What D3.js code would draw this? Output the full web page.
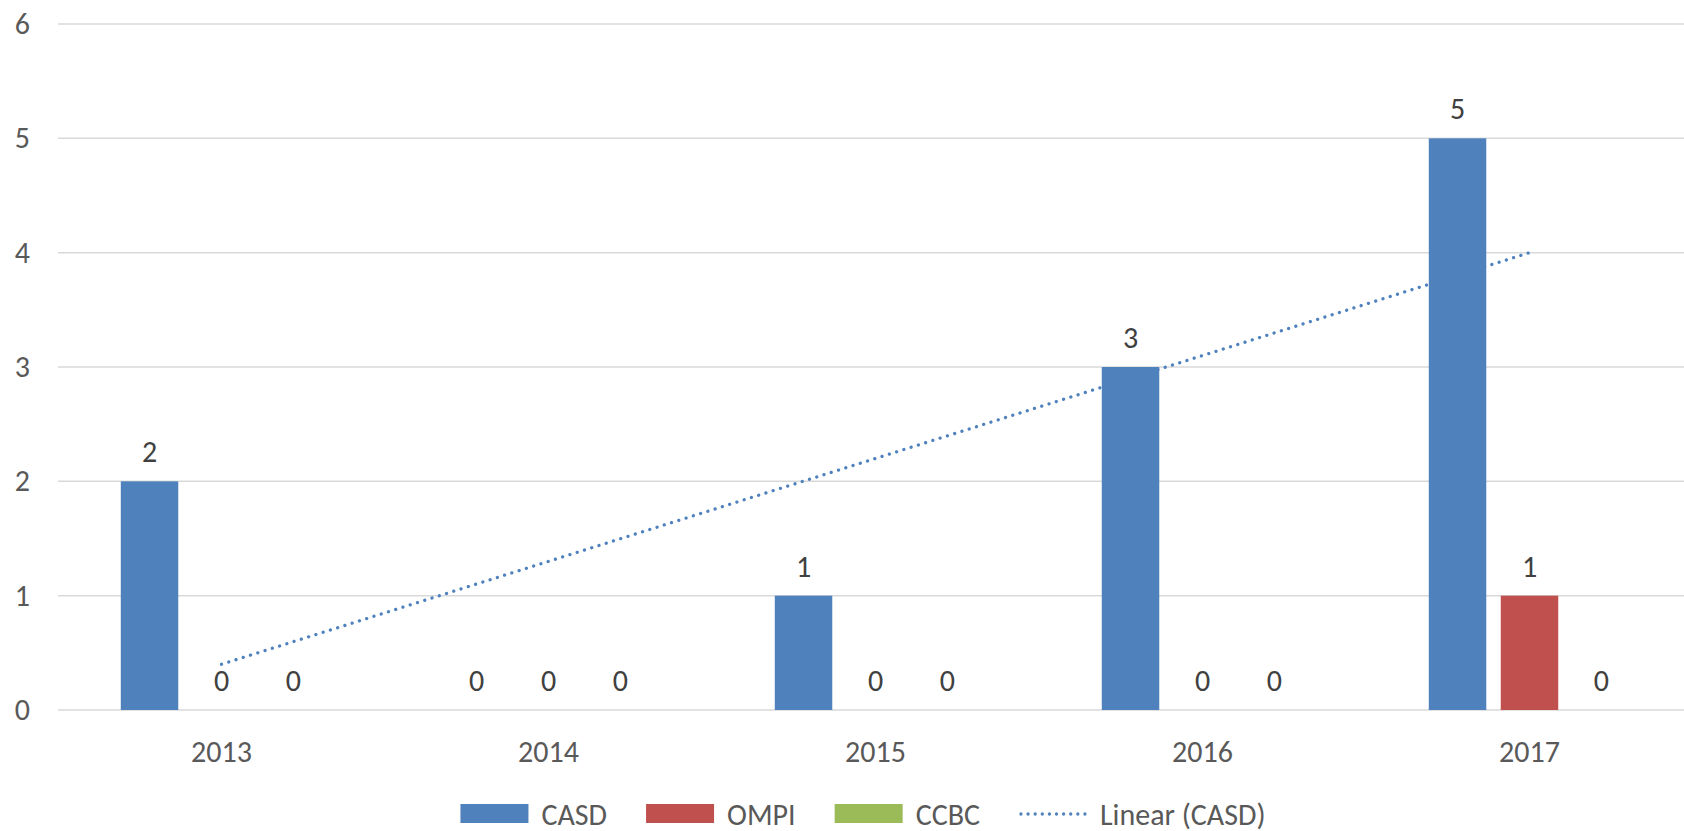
<!DOCTYPE html>
<html>
<head>
<meta charset="utf-8">
<script src="https://cdn.jsdelivr.net/npm/d3@7"></script>
<style>
  body { margin: 0; background: #fff; }
  svg { display: block; font-family: Carlito, Calibri, Lato, sans-serif; }
</style>
</head>
<body>
<div id="chart"></div>
<script>
// data
var years = ["2013", "2014", "2015", "2016", "2017"];
var casd = [2, 0, 1, 3, 5];
var ompi = [0, 0, 0, 0, 1];
var ccbc = [0, 0, 0, 0, 0];
var seriesNames = ["CASD", "OMPI", "CCBC"];
var yTicks = [0, 1, 2, 3, 4, 5, 6];
var trendName = "Linear (CASD)";

var colors = { "CASD": "#4F81BD", "OMPI": "#C0504D", "CCBC": "#9BBB59" };
var seriesValues = { "CASD": casd, "OMPI": ompi, "CCBC": ccbc };

var width = 1684, height = 831;
var plot = { left: 58, right: 1693, top: 24, bottom: 710 };
var fontSize = "30px";

var svg = d3.select("#chart")
    .append("svg")
    .attr("width", width)
    .attr("height", height);

// scales
var x0 = d3.scaleBand()
    .domain(years)
    .range([plot.left, plot.right])
    .paddingInner(0.384)
    .paddingOuter(0.192);

var x1 = d3.scaleBand()
    .domain(seriesNames)
    .range([0, x0.bandwidth()])
    .paddingInner(0.2014)
    .paddingOuter(0);

var y = d3.scaleLinear().domain([0, 6]).range([plot.bottom, plot.top]);

// gridlines
svg.append("g")
    .selectAll("line")
    .data(yTicks)
    .enter()
    .append("line")
    .attr("x1", plot.left)
    .attr("x2", plot.right)
    .attr("y1", function (d) { return y(d); })
    .attr("y2", function (d) { return y(d); })
    .attr("stroke", "#d9d9d9")
    .attr("stroke-width", 1.5);

// y axis labels
var yAxis = d3.axisLeft(y).tickValues(yTicks).tickFormat(d3.format("d")).tickSize(0).tickPadding(0);
svg.append("g")
    .attr("transform", "translate(30,0)")
    .call(yAxis)
    .call(function (g) { g.select(".domain").remove(); })
    .selectAll("text")
    .attr("fill", "#595959")
    .style("font-size", fontSize)
    .style("font-family", "Carlito, Calibri, Lato, sans-serif");

// x axis labels
var xAxis = d3.axisBottom(x0).tickSize(0).tickPadding(0);
svg.append("g")
    .attr("transform", "translate(0," + (plot.bottom + 41) + ")")
    .call(xAxis)
    .call(function (g) { g.select(".domain").remove(); })
    .selectAll("text")
    .attr("dy", "0.35em")
    .attr("fill", "#595959")
    .style("font-size", fontSize)
    .style("font-family", "Carlito, Calibri, Lato, sans-serif");

// trendline (least squares on CASD), drawn under the bars
var n = casd.length;
var xs = d3.range(1, n + 1);
var mx = d3.mean(xs), my = d3.mean(casd);
var slope = d3.sum(xs, function (v, i) { return (v - mx) * (casd[i] - my); }) /
    d3.sum(xs, function (v) { return (v - mx) * (v - mx); });
var intercept = my - slope * mx;
var trend = years.map(function (yr, i) { return { year: yr, value: intercept + slope * (i + 1) }; });

svg.append("path")
    .datum(trend)
    .attr("d", d3.line()
        .x(function (d) { return x0(d.year) + x0.bandwidth() / 2; })
        .y(function (d) { return y(d.value); }))
    .attr("fill", "none")
    .attr("stroke", "#4F81BD")
    .attr("stroke-width", 3.3)
    .attr("stroke-linecap", "round")
    .attr("stroke-dasharray", "0.01 7.6");

// bars
var groups = svg.append("g")
    .selectAll("g")
    .data(years)
    .enter()
    .append("g")
    .attr("transform", function (d) { return "translate(" + x0(d) + ",0)"; });

var cells = groups.selectAll("g")
    .data(function (yr, i) {
        return seriesNames.map(function (s) { return { key: s, value: seriesValues[s][i] }; });
    })
    .enter()
    .append("g");

cells.append("rect")
    .attr("x", function (d) { return x1(d.key); })
    .attr("width", x1.bandwidth())
    .attr("y", function (d) { return y(d.value); })
    .attr("height", function (d) { return y(0) - y(d.value); })
    .attr("fill", function (d) { return colors[d.key]; });

// value labels
cells.append("text")
    .attr("text-anchor", "middle")
    .attr("x", function (d) { return x1(d.key) + x1.bandwidth() / 2; })
    .attr("y", function (d) { return y(d.value) - 19; })
    .attr("fill", "#404040")
    .style("font-size", fontSize)
    .text(function (d) { return d.value; });

// legend
var legend = svg.append("g");
var lx = 0;
var legendItems = seriesNames.concat([trendName]);
legendItems.forEach(function (name, i) {
    var item = legend.append("g").attr("transform", "translate(" + lx + ",0)");
    if (i < seriesNames.length) {
        item.append("rect")
            .attr("x", 0).attr("y", -10)
            .attr("width", 68).attr("height", 19)
            .attr("fill", colors[name]);
    } else {
        item.append("line")
            .attr("x1", 2).attr("x2", 66)
            .attr("y1", 0).attr("y2", 0)
            .attr("stroke", "#4F81BD")
            .attr("stroke-width", 3.3)
            .attr("stroke-linecap", "round")
            .attr("stroke-dasharray", "0.01 7.1");
    }
    var t = item.append("text")
        .attr("x", 81)
        .attr("y", 0)
        .attr("dy", "0.35em")
        .attr("fill", "#595959")
        .style("font-size", fontSize)
        .text(name);
    lx += 81 + t.node().getComputedTextLength() + 39;
});
var legendWidth = lx - 39;
legend.attr("transform", "translate(" + (863 - legendWidth / 2) + ",814)");
</script>
</body>
</html>
